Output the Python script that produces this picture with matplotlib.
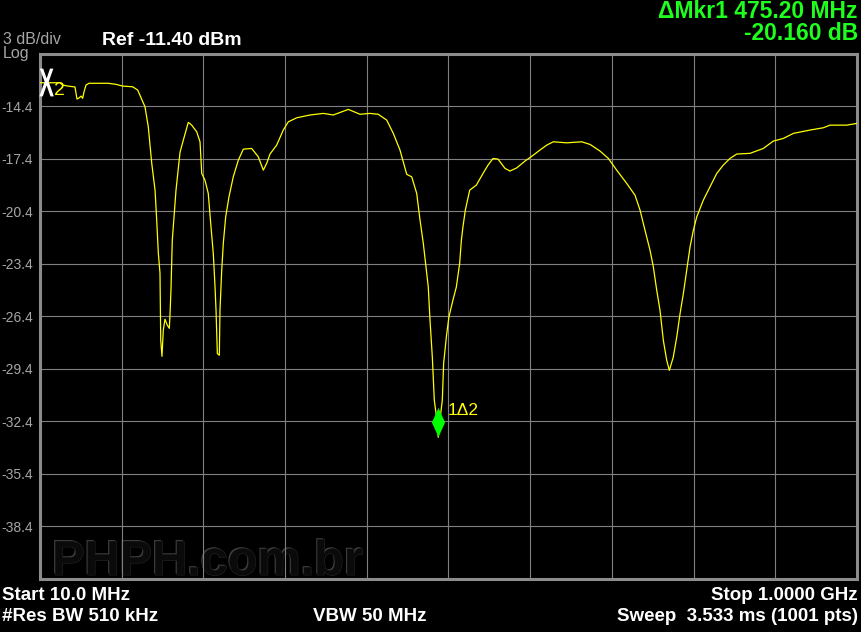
import numpy as np
import matplotlib
matplotlib.use("Agg")
import matplotlib.pyplot as plt
import matplotlib.patheffects as pe
from matplotlib.path import Path
from matplotlib.textpath import TextPath
from matplotlib.font_manager import FontProperties
from matplotlib.transforms import offset_copy

plt.rcParams['font.family'] = ['Liberation Sans', 'DejaVu Sans']

# sweep settings
f_start, f_stop = 10.0, 1000.0      # MHz
ref_level, db_div = -11.4, 3.0      # dBm, dB/div

# trace (MHz, dBm)
freq_mhz = [10.0, 28.2, 34.2, 37.5, 43.9, 52.4, 54.8, 57.3, 59.7, 61.7, 63.3, 65.7,
            69.4, 82.7, 92.4, 102.1, 110.2, 122.3, 128.4, 134.5, 137.2, 141.2, 145.4,
            149.4, 151.4, 153.4, 155.4, 156.3, 157.8, 159.4, 161.4, 164.3, 166.7, 167.5,
            168.7, 170.3, 172.7, 174.8, 177.6, 179.7, 183.7, 189.7, 193.8, 199.9, 203.9,
            206.0, 209.9, 213.9, 217.2, 220.0, 222.1, 223.3, 224.9, 227.3, 228.1, 230.2,
            232.1, 235.0, 239.0, 244.2, 250.3, 256.4, 266.5, 274.5, 280.6, 284.7, 288.7,
            296.8, 304.8, 310.9, 321.1, 337.2, 353.3, 365.4, 383.6, 397.8, 409.9, 419.9,
            430.1, 438.1, 446.2, 454.4, 460.4, 466.5, 470.5, 474.5, 478.6, 480.5, 482.6,
            485.4, 487.8, 489.9, 492.6, 495.3, 497.5, 499.1, 502.4, 505.5, 510.3, 514.5,
            518.5, 520.6, 522.5, 525.4, 530.7, 538.8, 546.8, 552.9, 559.0, 565.0, 573.5,
            579.5, 587.7, 597.7, 607.8, 615.9, 624.0, 632.0, 648.2, 666.4, 676.5, 688.6,
            698.7, 708.8, 721.0, 731.0, 737.1, 743.1, 749.2, 753.2, 757.3, 761.3, 765.3,
            769.4, 772.6, 777.4, 781.6, 785.6, 789.6, 793.7, 797.7, 801.7, 805.8, 813.8,
            821.9, 830.0, 838.0, 846.1, 854.3, 870.4, 886.5, 898.6, 910.7, 922.9, 943.1,
            959.2, 967.3, 987.6, 1000.0]
level_db = [-13.07, -13.07, -13.07, -13.20, -13.26, -13.31, -14.00, -13.94, -13.83, -13.96,
            -13.60, -13.20, -13.10, -13.10, -13.10, -13.16, -13.26, -13.30, -13.49, -14.15,
            -14.44, -15.58, -17.67, -19.20, -20.91, -22.80, -23.94, -27.77, -28.69, -27.20,
            -26.57, -26.91, -27.09, -26.34, -24.91, -22.06, -20.51, -19.20, -17.94, -17.03,
            -16.34, -15.33, -15.49, -15.87, -16.44, -18.25, -18.63, -19.39, -21.30, -22.82,
            -24.73, -26.06, -28.53, -28.63, -26.06, -23.77, -22.25, -20.73, -19.58, -18.44,
            -17.49, -16.86, -16.82, -17.30, -18.06, -17.67, -17.14, -16.63, -15.77, -15.30,
            -15.07, -14.91, -14.82, -14.91, -14.59, -14.87, -14.82, -14.87, -15.20, -15.96,
            -16.91, -18.30, -18.44, -19.39, -20.91, -22.25, -23.96, -24.73, -26.63, -28.73,
            -31.20, -31.94, -33.31, -32.06, -31.20, -29.09, -27.58, -26.44, -25.49, -24.73,
            -23.39, -22.06, -21.30, -20.34, -19.20, -18.91, -18.25, -17.77, -17.39, -17.43,
            -17.96, -18.11, -17.93, -17.54, -17.20, -16.91, -16.63, -16.44, -16.50, -16.44,
            -16.59, -16.97, -17.39, -18.06, -18.82, -19.49, -20.34, -21.49, -22.63, -23.58,
            -24.91, -26.06, -27.77, -28.91, -29.49, -28.73, -27.58, -26.25, -25.10, -23.77,
            -22.44, -21.49, -20.73, -19.77, -19.01, -18.25, -17.77, -17.39, -17.14, -17.10,
            -16.82, -16.40, -16.25, -15.96, -15.77, -15.64, -15.49, -15.49, -15.39]

GRAY = '#8c8c8c'
LABEL_GRAY = '#a6a6a6'
YELLOW = '#ffff00'
GREEN = '#1eff1e'

W, H = 862, 632
fig = plt.figure(figsize=(W / 100, H / 100), dpi=100, facecolor='black')
ax = fig.add_axes([40 / W, (H - 579) / H, 817 / W, 525.5 / H], facecolor='black')

y_bottom = ref_level - 10 * db_div
ax.set_xlim(f_start, f_stop)
ax.set_ylim(y_bottom, ref_level)

xt = np.linspace(f_start, f_stop, 11)
yt = np.linspace(y_bottom, ref_level, 11)
ax.set_xticks(xt)
ax.set_yticks(yt)
ax.set_xticklabels([])
ax.set_yticklabels(['' if i in (0, 10) else f'{v:.1f}' for i, v in enumerate(yt)],
                   color=LABEL_GRAY, fontsize=10)
ax.tick_params(length=0, pad=5)
ax.grid(True, color='#808080', linewidth=0.8)
for s in ax.spines.values():
    s.set_color(GRAY)
    s.set_linewidth(2.2)

# embossed watermark
ax.text(0.015, 0.008, 'PHPH.com.br', transform=ax.transAxes, fontsize=35,
        fontweight='bold', color='#0a0a0a', ha='left', va='baseline', zorder=1,
        path_effects=[pe.withSimplePatchShadow(offset=(-1, 1), shadow_rgbFace='#404040', alpha=1),
                      pe.Stroke(linewidth=0.8, foreground='#262626'), pe.Normal()])

ax.plot(freq_mhz, level_db, color=YELLOW, linewidth=0.9, zorder=3)

# marker 2 (reference) at sweep start: tall narrow "X"
xp = TextPath((0, 0), 'X', size=10, prop=FontProperties(family='Liberation Sans', weight='bold'))
verts = xp.vertices.copy()
verts -= verts.min(axis=0) + (verts.max(axis=0) - verts.min(axis=0)) / 2
verts[:, 0] *= 0.55
x_marker = Path(verts, xp.codes)
ax.plot([freq_mhz[0]], [level_db[0]], marker=x_marker, markersize=20, color='white',
        markeredgewidth=0, linestyle='none', zorder=5, clip_on=False,
        transform=offset_copy(ax.transData, fig, x=6, y=1, units='dots'))
ax.text(freq_mhz[0], level_db[0], '2', transform=offset_copy(ax.transData, fig, x=19, y=-16, units='dots'),
        color=YELLOW, fontsize=14, ha='center', va='bottom', zorder=5)

# marker 1 at the deep notch
i_min = int(np.argmin(level_db))
diamond = [(0, -1), (0.45, 0), (0, 1), (-0.45, 0), (0, -1)]
ax.plot([freq_mhz[i_min]], [level_db[i_min]], marker=diamond, markersize=21,
        color='#00ff00', markeredgewidth=0, linestyle='none', zorder=6,
        transform=offset_copy(ax.transData, fig, x=0, y=15, units='dots'))
ax.text(freq_mhz[i_min], level_db[i_min], '1\u03942',
        transform=offset_copy(ax.transData, fig, x=9, y=22, units='dots'),
        color=YELLOW, fontsize=12.5, ha='left', va='baseline', zorder=6)


def ftext(x, y, s, **kw):
    fig.text(x / W, 1 - y / H, s, va='baseline', **kw)


ftext(3, 44, '3 dB/div', color=LABEL_GRAY, fontsize=11.5)
ftext(3, 58, 'Log', color=LABEL_GRAY, fontsize=11.5)
ftext(102, 45, f'Ref {ref_level:.2f} dBm', color='white', fontsize=14, fontweight='bold')
ftext(858, 18, '\u0394Mkr1 475.20 MHz', color=GREEN, fontsize=16.5, fontweight='bold', ha='right')
ftext(858, 40, '-20.160 dB', color=GREEN, fontsize=16.5, fontweight='bold', ha='right')

ftext(2, 600, f'Start {f_start:.1f} MHz', color='white', fontsize=13.5, fontweight='bold')
ftext(858, 600, f'Stop {f_stop / 1000:.4f} GHz', color='white', fontsize=13.5, fontweight='bold', ha='right')
ftext(2, 621, '#Res BW 510 kHz', color='white', fontsize=13.5, fontweight='bold')
ftext(313, 621, 'VBW 50 MHz', color='white', fontsize=13.5, fontweight='bold')
ftext(858, 621, 'Sweep  3.533 ms (1001 pts)', color='white', fontsize=13.5, fontweight='bold', ha='right')

fig.savefig('out.png', dpi=100, facecolor='black')
